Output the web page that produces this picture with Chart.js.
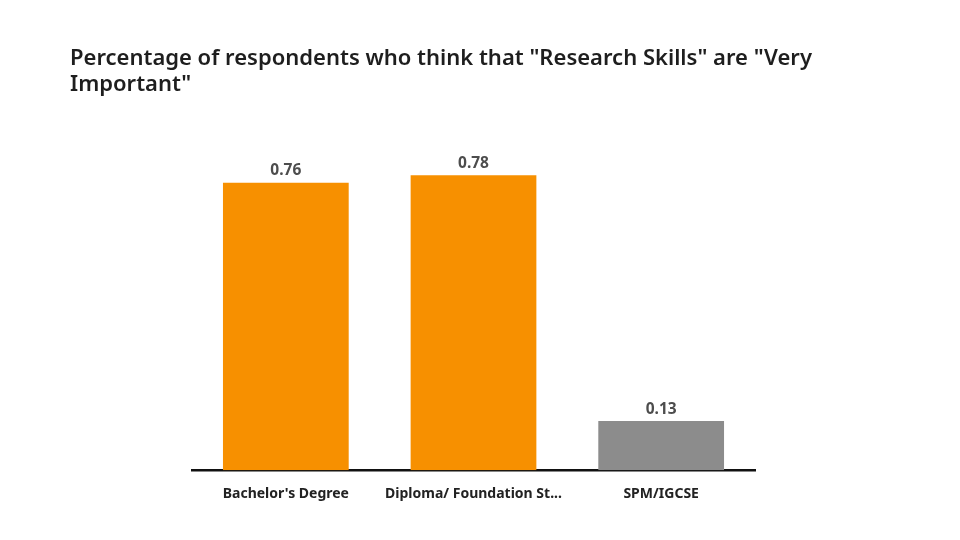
<!DOCTYPE html>
<html>
<head>
<meta charset="utf-8">
<script src="https://cdn.jsdelivr.net/npm/chart.js@4/dist/chart.umd.min.js"></script>
<style>
  html, body { margin: 0; padding: 0; background: #fff; }
  #wrap { position: relative; width: 960px; height: 540px; }
  #title { position: absolute; left: 70px; top: 43px; font: 600 22px "Noto Sans", sans-serif; line-height: 26px; color: #1e1e1e; }
</style>
</head>
<body>
<div id="wrap">
  <div id="title">Percentage of respondents who think that "Research Skills" are "Very<br>Important"</div>
  <canvas id="c" width="960" height="540"></canvas>
</div>
<script>
const categorias = ["Bachelor's Degree", 'Diploma/ Foundation St...', 'SPM/IGCSE']
const valores = [0.76, 0.78, 0.13]
const cores = ['#f79000', '#f79000', '#8c8c8c']

const rotulos = {
  id: 'rotulos',
  afterDatasetsDraw(chart) {
    const ctx = chart.ctx
    const meta = chart.getDatasetMeta(0)
    ctx.save()
    ctx.font = 'bold 15.5px "Noto Sans", sans-serif'
    ctx.fillStyle = '#4d4d4d'
    ctx.textAlign = 'center'
    ctx.textBaseline = 'bottom'
    meta.data.forEach((bar, i) => {
      ctx.fillText(valores[i].toFixed(2), bar.x, bar.y - 4)
    })
    ctx.restore()
  }
}

new Chart(document.getElementById('c'), {
  type: 'bar',
  data: {
    labels: categorias,
    datasets: [{
      data: valores,
      backgroundColor: cores,
      categoryPercentage: 1,
      barPercentage: 0.67
    }]
  },
  options: {
    responsive: false,
    animation: false,
    layout: { padding: { left: 192, right: 205, top: 92, bottom: 31 } },
    plugins: {
      legend: { display: false },
      tooltip: { enabled: false }
    },
    scales: {
      x: {
        grid: { display: false },
        border: { color: '#111', width: 2.5 },
        ticks: {
          color: '#222',
          padding: 7,
          font: { family: '"Noto Sans", sans-serif', size: 14, weight: 'bold' }
        }
      },
      y: {
        display: false,
        min: 0,
        max: 1
      }
    }
  },
  plugins: [rotulos]
})
</script>
</body>
</html>
